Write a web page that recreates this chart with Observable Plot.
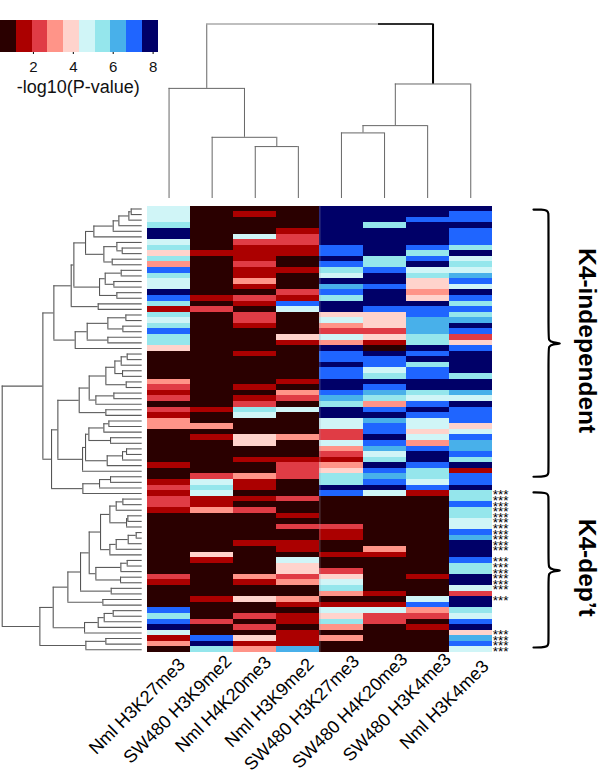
<!DOCTYPE html>
<html>
<head>
<meta charset="utf-8">
<script src="https://cdn.jsdelivr.net/npm/d3@7"></script>
<script src="https://cdn.jsdelivr.net/npm/@observablehq/plot@0.6"></script>
<style>
html,body{margin:0;padding:0;background:#fff}
#root{position:relative;width:600px;height:777px;overflow:hidden;font-family:"Liberation Sans",Arial,sans-serif}
#root svg{position:absolute;background:transparent;overflow:visible}
</style>
</head>
<body>
<div id="root"></div>
<script>
const columns = ["Nml H3K27me3","SW480 H3K9me2","Nml H4K20me3","Nml H3K9me2","SW480 H3K27me3","SW480 H4K20me3","SW480 H3K4me3","Nml H3K4me3"];
const labelDx = [17,20.5,17,16.5,19,24,24.5,19];
const labelDy = [13,10,11,13,10,8,8,15];
const palette = ["#2a0000","#ab0000","#e03c45","#ff9488","#ffd3cc","#d0f5f7","#95e6ec","#48b0ea","#1f65ff","#000068"];
const legendEdges = [0.35,1.14,1.93,2.72,3.51,4.3,5.09,5.88,6.67,7.46,8.25];
const legendTicks = [2,4,6,8];
// colour-bin level (0..9) of each gene row, one entry per column
const heatRows = [
[5,0,0,0,9,9,9,9],[5,0,1,0,9,9,9,8],[5,0,0,0,9,9,8,8],[6,0,0,0,9,6,9,9],[9,0,0,1,9,9,9,8],
[9,0,5,2,9,9,9,8],[5,0,2,2,9,9,9,8],[6,0,1,1,8,9,8,6],[4,1,1,1,8,9,6,9],[6,0,1,0,9,6,8,5],
[3,0,2,0,8,6,9,6],[8,0,1,1,6,8,5,5],[6,0,1,0,5,9,6,7],[5,0,3,0,9,9,4,8],[5,0,1,0,7,8,4,5],
[9,0,0,2,8,9,3,9],[8,1,2,1,6,9,4,8],[6,0,1,8,9,9,9,6],[1,2,0,5,9,8,8,8],[6,0,2,0,4,4,8,6],
[5,0,2,0,5,4,7,7],[6,0,1,0,3,4,7,9],[8,0,0,0,2,2,7,8],[6,0,0,4,5,4,6,2],[6,0,0,1,3,1,6,4],
[4,0,0,0,9,0,9,8],[0,0,1,0,8,9,8,9],[0,0,0,0,8,8,9,9],[0,0,0,0,9,8,6,9],[0,0,0,0,8,5,8,9],
[0,0,0,0,8,6,8,6],[3,0,0,1,9,9,9,9],[2,0,1,0,9,8,9,9],[1,0,0,3,8,7,6,7],[2,0,1,2,7,6,5,5],
[0,0,2,0,6,3,8,9],[2,1,6,5,9,8,9,8],[1,0,5,0,9,9,8,8],[3,0,0,0,5,7,5,8],[3,3,0,0,5,8,5,4],
[0,0,0,0,2,8,4,5],[0,1,4,3,2,9,5,8],[0,0,4,0,5,8,3,7],[0,0,0,0,3,7,8,7],[0,0,0,0,2,5,9,8],
[0,0,1,1,1,6,9,6],[1,0,0,2,3,9,8,9],[0,0,0,2,4,8,6,1],[0,2,3,2,6,7,6,8],[1,5,1,0,6,8,5,8],
[2,6,1,0,9,9,8,9],[1,5,0,0,8,5,1,6],[2,1,1,2,0,0,0,6],[2,1,0,0,0,0,0,8],[1,3,2,0,0,0,0,6],
[0,0,0,1,0,0,0,6],[0,0,0,0,0,0,0,5],[0,0,0,2,2,0,0,5],[0,0,0,0,1,0,0,8],[0,0,0,0,1,0,0,7],
[0,0,1,1,0,0,0,9],[0,0,0,1,0,3,0,9],[0,4,0,0,1,1,0,9],[0,1,0,5,0,0,0,8],[0,0,0,4,0,0,0,6],
[0,0,0,4,2,0,0,6],[2,0,3,2,4,0,1,9],[1,0,1,3,5,0,0,9],[0,0,0,0,6,0,0,5],[0,0,0,0,3,1,0,2],
[0,1,4,3,0,0,5,9],[0,0,0,1,1,1,8,9],[8,0,0,0,5,5,3,6],[6,0,2,1,4,2,2,5],[8,2,0,1,6,2,0,8],
[9,0,2,0,3,0,1,9],[5,0,0,1,0,0,0,4],[1,8,4,1,3,0,0,7],[3,9,1,1,0,0,0,8],[0,6,3,7,0,0,0,5]];
const starRuns = [
  {first:51, count:11},
  {first:63, count:6},
  {first:70, count:1},
  {first:76, count:4}
];
const groups = [
  {label:"K4-independent", start:0.6, tip:24.6, end:48.5},
  {label:"K4-dep’t", start:51.3, tip:65.3, end:79.1}
];
// dendrogram trees: [height, childA, childB]; a bare number is a leaf
const colTree = [174.7,
  [110.3, 0, [61.3, 1, [52, 2, 3]]],
  [114.7, [73, [65.7, 4, 5], 6], 7]];

const a1 = [145,[87,[70,[40,[33,0,1],2],3],4],5];
const b1 = [115,[76,6,[60,7,8]],[90,9,10]];
const c1 = [128,[111,[63,11,12],[85,13,14]],[76,15,16]];
const abc = [205,[170,a1,b1],c1];
const abcd = [213,abc,[132,17,18]];
const e1 = [201,[165,[103,[49,19,20],[58,21,22]],[103,23,24]],25];
const upperTop = [265,abcd,e1];
const f1 = [109,[82,[63,[45,26,27],28],[59,29,30]],[48,31,32]];
const g1 = [189,[159,f1,[139,[85,33,34],35]],[109,36,37]];
const h1 = [160,[115,[100,38,39],40],[95,41,42]];
const i1 = [105,[59,[47,43,44],45],46];
const j1 = [179,[170,h1,i1],47];
const k1 = [178,[128,[95,48,49],50],51];
const upperLow = [272,[253,g1,j1],k1];
const upper = [298,upperTop,upperLow];
const n1 = [97,[78,[58,52,53],54],[47,[43,55,56],57]];
const p1 = [97,[78,[42,[18,58,59],60],61],62];
const r1 = [139,[64,[45,63,64],65],[65,66,67]];
const s1 = [159,[125,n1,p1],r1];
const v1 = [223,[185,s1,[93,68,69]],[118,70,71]];
const x1 = [173,[132,[114,[87,72,73],74],75],76];
const lower = [307,[267,v1,x1],[169,[109,77,78],79]];
const rowTree = [420,upper,lower];

function segments(tree){
  const bars = [], stems = [];
  (function walk(n, depth){
    if (typeof n === "number") return {pos:n+0.5, h:0};
    const a = walk(n[1], depth+1), b = walk(n[2], depth+1);
    bars.push({h:n[0], p1:a.pos, p2:b.pos, depth});
    stems.push({p:a.pos, h1:a.h, h2:n[0], depth, side:"a"});
    stems.push({p:b.pos, h1:b.h, h2:n[0], depth, side:"b"});
    return {pos:(a.pos+b.pos)/2, h:n[0]};
  })(tree, 0);
  return {bars, stems};
}

const root = document.getElementById("root");
function place(svg, left, top){
  svg.style.left = left+"px"; svg.style.top = top+"px";
  root.appendChild(svg);
}
const font = '"Liberation Sans",Arial,sans-serif';
const colorScale = {type:"ordinal", domain:d3.range(10), range:palette};

// heatmap and column labels
const cells = heatRows.flatMap((r,i)=>r.map((v,j)=>({row:i,col:columns[j],level:v})));
place(Plot.plot({
  width:600, height:777, marginLeft:147, marginRight:108.2, marginTop:205.7, marginBottom:125,
  style:{fontFamily:font, background:"transparent"},
  x:{type:"band", domain:columns, padding:0, round:false, axis:null},
  y:{type:"band", domain:d3.range(80), padding:0, round:false, axis:null},
  color:colorScale,
  marks:[
    Plot.cell(cells,{x:"col",y:"row",fill:"level",shapeRendering:"crispEdges"}),
    Plot.ruleX([columns[4]],{x:d=>d,dx:-21.55,stroke:"#9a9aaa",strokeOpacity:0.55,strokeWidth:0.8}),
    ...columns.map((c,i)=>Plot.text([c],{x:d=>d,frameAnchor:"bottom",dx:labelDx[i],dy:labelDy[i],rotate:-45,textAnchor:"end",fontSize:18,fill:"#000"})),
    Plot.text(starRuns,{x:()=>columns[7],y:"first",text:d=>Array(d.count).fill("***").join("\n"),lineHeight:5.58/13.5,lineAnchor:"top",textAnchor:"start",dx:22,dy:2,fontSize:13.5,fill:"#000"})
  ]
}),0,0);

// row dendrogram
const rs = segments(rowTree);
place(Plot.plot({
  width:143, height:460, margin:0,
  x:{domain:[0,420],range:[141.7,1.7],axis:null},
  y:{domain:[0,80],range:[5.7,452],axis:null},
  marks:[
    Plot.ruleX(rs.bars,{x:"h",y1:"p1",y2:"p2",stroke:"#555",strokeWidth:1.1}),
    Plot.ruleY(rs.stems,{y:"p",x1:"h1",x2:"h2",stroke:"#5c5c5c",strokeWidth:1.1})
  ]
}),0,200);

// column dendrogram
const cs = segments(colTree);
const rootRight = cs.stems.find(d=>d.depth===0 && d.side==="b");
place(Plot.plot({
  width:345, height:180, margin:0,
  x:{domain:[0,8],range:[0,344.8],axis:null},
  y:{domain:[0,175],range:[178,3.3],axis:null},
  marks:[
    Plot.ruleX(cs.stems,{x:"p",y1:"h1",y2:"h2",stroke:"#666",strokeWidth:1}),
    Plot.ruleY(cs.bars.filter(d=>d.depth>0),{y:"h",x1:"p1",x2:"p2",stroke:"#666",strokeWidth:1}),
    Plot.ruleY(cs.bars.filter(d=>d.depth===0),{y:"h",x1:"p1",x2:"p2",stroke:"#aaa",strokeWidth:1.5}),
    Plot.ruleY(cs.bars.filter(d=>d.depth===0),{y:"h",x1:()=>5.36,x2:"p2",stroke:"#000",strokeWidth:1.5}),
    Plot.ruleX([rootRight],{x:"p",y1:"h1",y2:"h2",stroke:"#000",strokeWidth:2})
  ]
}),147,20);

// colour legend
place(Plot.plot({
  width:160, height:80, marginLeft:0, marginRight:2.4, marginTop:0, marginBottom:48,
  style:{fontFamily:font, background:"transparent"},
  x:{domain:[0.35,8.25]},
  y:{domain:[0,1],axis:null},
  color:colorScale,
  marks:[
    Plot.rectY(d3.range(10),{x1:i=>legendEdges[i],x2:i=>legendEdges[i+1],y1:()=>0,y2:()=>1,fill:d=>d,shapeRendering:"crispEdges"}),
    Plot.axisX({ticks:legendTicks,anchor:"bottom",label:null,tickSize:2,tickPadding:7,fontSize:15,fill:"#111"}),
    Plot.text(["-log10(P-value)"],{frameAnchor:"bottom",x:()=>4.25,dy:40,fontSize:18,fill:"#111",textAnchor:"middle"})
  ]
}),0,20);

// group braces and labels
const braceDx = [0,8,14,15,15,15,15,19,30,19,15,15,15,15,14,8,0];
function bracePoints(g){
  const t=g.tip, s=g.start, e=g.end;
  const ys=[s,s,s+.15,s+.7,s+1.4,t-1.4,t-.6,t-.12,t,t+.12,t+.6,t+1.4,e-1.4,e-.7,e-.15,e,e];
  return ys.map((y,i)=>({label:g.label,y,x:braceDx[i]}));
}
place(Plot.plot({
  width:67, height:460, margin:0,
  style:{fontFamily:font, background:"transparent"},
  x:{domain:[0,67],range:[0,67],axis:null},
  y:{domain:[0,80],range:[5.7,452],axis:null},
  marks:[
    Plot.line(groups.flatMap(bracePoints),{x:"x",y:"y",z:"label",stroke:"#000",strokeWidth:2.2,curve:"basis"}),
    Plot.text(groups,{x:()=>53.5,y:d=>d.tip-0.5,text:"label",rotate:90,fontSize:24.5,fontWeight:"bold",fill:"#000"})
  ]
}),533,200);
</script>
</body>
</html>
